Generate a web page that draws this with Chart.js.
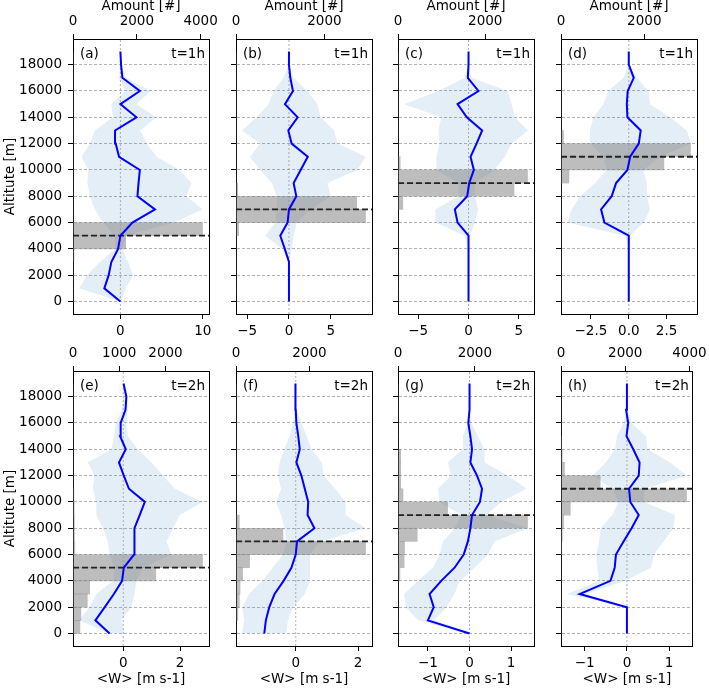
<!DOCTYPE html>
<html>
<head>
<meta charset="utf-8">
<script src="https://cdn.jsdelivr.net/npm/chart.js@4.4.1/dist/chart.umd.min.js"></script>
<style>
  body { margin: 0; background: #fff; width: 709px; height: 688px; position: relative; overflow: hidden; }
</style>
</head>
<body>
<script>
// altitude levels of the <W> profiles and histogram bins (1000 m wide)
const altitudes = [0,1000,2000,3000,4000,5000,6000,7000,8000,9000,10000,11000,12000,13000,14000,15000,16000,17000,18000,19000];
const binCenters = [500,1500,2500,3500,4500,5500,6500,7500,8500,9500,10500,11500,12500,13500,14500,15500,16500,17500,18500];
const altTicks = [0,2000,4000,6000,8000,10000,12000,14000,16000,18000];

// (a) t=1h
const wA   = [0,-1.95,-1.42,-1.1,-0.28,0,1.46,4.2,2.07,2.2,2.36,-0.16,-0.57,-0.65,1.95,0,2.36,0.24,0.08,0];
const loA  = [-0.1,-5.0,-4.05,-2.5,-0.6,-0.7,-2.1,-3.1,-3.7,-4.0,-3.9,-4.7,-3.7,-3.1,-0.9,-1.1,0.6,-0.1,0,0];
const hiA  = [0.1,0.65,1.54,0.93,0.25,0.73,6.4,10.0,8.0,8.6,7.2,4.4,3.2,2.4,4.4,1.95,3.65,0.65,0.1,0];
const amtA = [0,0,0,30,1650,4060,0,0,0,0,0,0,0,0,0,0,0,0,0];
const topA = 5000;

// (b) t=1h
const wB   = [0,0,0,0,-0.5,-1.04,-0.16,0,0.88,0.56,1.4,2.25,0.32,-0.08,1.04,-0.48,0.48,0.16,0,0];
const loB  = [0,0,0,0,-0.85,-2.85,-1.65,-1.45,-1.45,-2.05,-3.45,-4.66,-3.45,-5.6,-3.86,-2.45,-1.85,-0.64,0,0];
const hiB  = [0,0,0,0,0.36,0.56,0.96,2.57,4.98,4.6,8.2,9.2,5.8,5.4,3.8,3.4,2.2,0.56,0,0];
const amtB = [0,0,0,0,0,60,2930,2730,40,0,0,0,0,0,0,0,0,0,0];
const topB = 7000;

// (c) t=1h
const wC   = [0,0,0,0,0,0,-1.09,-1.36,-0.13,0.07,0.53,0.2,0.8,1.36,-0.17,-1.09,0.99,-0.07,0,0];
const loC  = [0,0,0,0,0,-0.36,-3.3,-3.3,-1.0,-1.0,-3.2,-3.2,-2.85,-3.0,-2.7,-6.4,-3.0,-0.36,0,0];
const hiC  = [0,0,0,0,0,0.13,0.63,0.96,0.63,0.63,2.6,3.6,4.3,5.9,4.6,4.3,3.9,0.3,0,0];
const amtC = [0,0,0,0,0,0,0,110,2660,2970,50,0,0,0,0,0,0,0,0];
const topC = 9000;

// (d) t=1h
const wD   = [0,0,0,0,0,0,-1.61,-1.83,-1.13,-0.84,-0.09,0.09,0.66,0.79,-0.09,-0.13,-0.07,0.33,0,0];
const loD  = [0,0,0,0,0,-0.24,-4.07,-3.77,-3.22,-2.23,-1.46,-1.68,-2.56,-2.56,-2.34,-1.68,-1.35,-0.35,0,0];
const hiD  = [0,0,0,0,0,0.09,0.97,1.41,1.19,1.19,0.97,2.07,4.1,3.84,2.74,1.41,1.3,0.53,0,0];
const amtD = [0,0,0,0,0,0,0,0,0,190,2470,3110,60,0,0,0,0,0,0];
const topD = 11000;

// (e) t=2h
const wE   = [-0.48,-0.98,-0.65,-0.33,-0.04,0.02,0.38,0.39,0.4,0.58,0.76,0.2,0.02,-0.15,0.09,-0.11,-0.09,0.08,0.11,0.01];
const loE  = [-0.5,-1.55,-1.19,-0.95,-0.36,-0.31,-0.48,-0.54,-0.72,-0.95,-0.95,-1.07,-1.01,-1.25,-0.42,-0.31,-0.25,-0.05,0,0];
const hiE  = [0.05,-0.07,0.28,0.4,0.46,0.69,1.69,1.52,1.75,1.99,2.8,1.81,1.4,0.99,0.52,0.16,0.11,0.15,0.15,0.02];
const amtE = [150,170,310,360,1790,2800,40,30,30,25,20,0,0,0,0,0,0,0,0];
const topE = 5000;

// (f) t=2h
const wF   = [-1.01,-0.96,-0.85,-0.68,-0.39,-0.14,0,0.04,0.6,0.38,0.4,0.29,0.18,0.02,0.13,0.08,0.02,0,-0.01,-0.01];
const loF  = [-1.72,-1.66,-1.72,-1.5,-1.07,-0.74,-0.41,-0.3,-0.36,-0.47,-0.63,-0.47,-0.58,-0.52,-0.36,-0.2,-0.09,-0.03,-0.03,-0.02];
const hiF  = [-0.3,-0.25,-0.09,0.29,0.46,0.46,0.46,0.78,2.25,1.6,1.6,1.27,0.89,0.84,0.51,0.35,0.18,0.03,0.02,0.01];
const amtF = [0,50,90,110,180,370,3530,1280,90,0,0,0,0,0,0,0,0,0,0];
const topF = 7000;

// (g) t=2h
const wG   = [0,-1.0,-0.86,-0.96,-0.68,-0.36,-0.14,-0.04,0.02,0.06,0.25,0.3,0.18,0.02,0.06,0.02,-0.03,0,0,0];
const loG  = [-0.04,-1.24,-1.53,-1.57,-1.24,-0.88,-0.72,-0.64,-0.36,-0.2,-0.72,-0.76,-0.44,-0.52,-0.16,-0.16,-0.04,0,0,0];
const hiG  = [0.04,-0.84,-0.56,-0.36,-0.24,0.12,0.44,0.6,1.4,0.4,0.76,1.37,0.92,0.36,0.36,0.2,0.04,0,0,0];
const amtG = [0,0,0,0,50,160,170,500,3370,1290,130,70,70,70,0,0,0,0,0];
const topG = 9000;

// (h) t=2h
const wH   = [0,0,0,-1.12,-0.39,-0.29,-0.26,-0.08,0.11,0.28,0.08,0.05,0.28,0.3,0.15,-0.01,0.03,-0.02,0,0];
const loH  = [0,0,0,-1.42,-0.66,-0.7,-0.73,-0.66,-0.62,-0.35,-0.2,-0.35,-0.81,-0.5,-0.28,-0.24,-0.08,-0.02,0,0];
const hiH  = [0,0,0,-0.96,-0.05,0.57,0.64,0.87,1.1,1.14,0.41,0.41,1.42,1.02,0.49,0.45,0.11,0.02,0,0];
const amtH = [0,0,0,0,0,0,20,40,80,290,3910,1220,110,40,20,0,0,0,0];
const topH = 11000;

// tick labels
const wTicksA = [0,10], wTicksB = [-5,0,5], wTicksC = [-5,0,5], wTicksD = [-2.5,0,2.5];
const wTicksE = [0,2], wTicksF = [0,2], wTicksG = [-1,0,1], wTicksH = [-1,0,1];
const aTicksA = [0,2000,4000], aTicksB = [0,2000], aTicksC = [0,2000], aTicksD = [0,2000];
const aTicksE = [0,1000,2000], aTicksF = [0,2000], aTicksG = [0,2000], aTicksH = [0,2000,4000];

const panels = [
  {tag:'(a)', time:'t=1h', w:wA, lo:loA, hi:hiA, amt:amtA, top:topA, wt:wTicksA, at:aTicksA},
  {tag:'(b)', time:'t=1h', w:wB, lo:loB, hi:hiB, amt:amtB, top:topB, wt:wTicksB, at:aTicksB},
  {tag:'(c)', time:'t=1h', w:wC, lo:loC, hi:hiC, amt:amtC, top:topC, wt:wTicksC, at:aTicksC},
  {tag:'(d)', time:'t=1h', w:wD, lo:loD, hi:hiD, amt:amtD, top:topD, wt:wTicksD, at:aTicksD},
  {tag:'(e)', time:'t=2h', w:wE, lo:loE, hi:hiE, amt:amtE, top:topE, wt:wTicksE, at:aTicksE},
  {tag:'(f)', time:'t=2h', w:wF, lo:loF, hi:hiF, amt:amtF, top:topF, wt:wTicksF, at:aTicksF},
  {tag:'(g)', time:'t=2h', w:wG, lo:loG, hi:hiG, amt:amtG, top:topG, wt:wTicksG, at:aTicksG},
  {tag:'(h)', time:'t=2h', w:wH, lo:loH, hi:hiH, amt:amtH, top:topH, wt:wTicksH, at:aTicksH}
];

const FONT = {family: 'DejaVu Sans', size: 13.5};
const plotLefts = [73, 236, 398, 561];

const cornerText = {
  id: 'cornerText',
  afterDatasetsDraw(chart, args, opts) {
    const {ctx, chartArea: a} = chart;
    ctx.save();
    ctx.font = '13.5px "DejaVu Sans"';
    ctx.fillStyle = '#000';
    ctx.textBaseline = 'middle';
    ctx.textAlign = 'left';
    ctx.fillText(opts.tag, a.left + 7, a.top + 15);
    ctx.textAlign = 'right';
    ctx.fillText(opts.time, a.right - 4, a.top + 15);
    ctx.restore();
  }
};

function fmtW(ticks) {
  const dec = ticks.some(t => !Number.isInteger(t)) ? 1 : 0;
  return v => Number(v).toFixed(dec).replace('-', '\u2212');
}

function makeChart(p, idx) {
  const col = idx % 4, row = Math.floor(idx / 4);
  const cv = document.createElement('canvas');
  const W = 223, H = row === 0 ? 344 : 358;
  const axTop = row === 0 ? 39 : 41;
  const axBot = H - axTop - 275;
  cv.width = W; cv.height = H;
  cv.style.position = 'absolute';
  cv.style.left = (plotLefts[col] - 73) + 'px';
  cv.style.top = (row === 0 ? 0 : 330) + 'px';
  document.body.appendChild(cv);

  // matplotlib-like autoscaling
  const lo = Math.min(...p.lo), hi = Math.max(...p.hi);
  const m = (hi - lo) * 0.05;
  const xmin = lo - m, xmax = hi + m;
  const ymin = -0.05 * 19000, ymax = 19000 * 1.05;
  const amax = Math.max(...p.amt) * 1.05;
  const pts = arr => arr.map((v, i) => ({x: v, y: altitudes[i]}));

  new Chart(cv, {
    type: 'line',
    data: {
      datasets: [
        {data: pts(p.w), borderColor: '#0000ff', borderWidth: 2, pointRadius: 0, fill: false,
         xAxisID: 'x', yAxisID: 'y', indexAxis: 'y'},
        {data: [{x: xmin, y: p.top}, {x: xmax, y: p.top}], borderColor: '#222', borderWidth: 1.8,
         borderDash: [6, 3], pointRadius: 0, fill: false, xAxisID: 'x', yAxisID: 'y', indexAxis: 'y'},
        {data: [{x: 0, y: ymin}, {x: 0, y: ymax}], borderColor: '#999', borderWidth: 0.8,
         borderDash: [2, 2], pointRadius: 0, fill: false, xAxisID: 'x', yAxisID: 'y', indexAxis: 'y'},
        {type: 'bar', data: p.amt.map((v, i) => ({x: v, y: binCenters[i]})),
         backgroundColor: 'rgba(128,128,128,0.52)', borderWidth: 0,
         barPercentage: 1, categoryPercentage: 1, xAxisID: 'x2', yAxisID: 'y', indexAxis: 'y'},
        {data: pts(p.lo), borderColor: 'rgba(0,0,0,0)', borderWidth: 0, pointRadius: 0, fill: false,
         xAxisID: 'x', yAxisID: 'y', indexAxis: 'y'},
        {data: pts(p.hi), borderColor: 'rgba(0,0,0,0)', borderWidth: 0, pointRadius: 0, fill: '-1',
         backgroundColor: 'rgba(31,119,180,0.12)', xAxisID: 'x', yAxisID: 'y', indexAxis: 'y'}
      ]
    },
    plugins: [cornerText],
    options: {
      responsive: false,
      animation: false,
      indexAxis: 'y',
      layout: {padding: {left: 0, right: 14, top: 0, bottom: 0}},
      plugins: {
        legend: {display: false},
        tooltip: {enabled: false},
        cornerText: {tag: p.tag, time: p.time}
      },
      scales: {
        y: {
          type: 'linear', position: 'left', min: ymin, max: ymax, offset: false,
          afterBuildTicks: s => { s.ticks = altTicks.map(v => ({value: v})); },
          afterFit: s => { s.width = 73; },
          ticks: {color: '#000', font: FONT, padding: 6, autoSkip: false,
                  callback: v => col === 0 ? String(v) : ''},
          grid: {offset: false, color: 'rgba(0,0,0,0.38)', lineWidth: 0.8, tickColor: '#000', tickLength: 5, tickWidth: 1},
          border: {color: '#000', width: 1, dash: [3, 2]},
          title: {display: col === 0, text: 'Altitute [m]', color: '#000', font: FONT, padding: {top: 2, bottom: 0}}
        },
        yr: {
          type: 'linear', position: 'right', min: ymin, max: ymax, offset: false,
          afterFit: s => { s.width = 0; },
          ticks: {display: false},
          grid: {drawOnChartArea: false, drawTicks: false},
          border: {color: '#000', width: 1}
        },
        x: {
          type: 'linear', position: 'bottom', min: xmin, max: xmax, offset: false,
          afterBuildTicks: s => { s.ticks = p.wt.map(v => ({value: v})); },
          afterFit: s => { s.height = axBot; },
          ticks: {color: '#000', font: FONT, padding: 4, autoSkip: false, maxRotation: 0, callback: fmtW(p.wt)},
          grid: {drawOnChartArea: false, tickColor: '#000', tickLength: 5, tickWidth: 1},
          border: {color: '#000', width: 1},
          title: {display: row === 1, text: '<W> [m s-1]', color: '#000', font: FONT, padding: {top: 0, bottom: 0}}
        },
        x2: {
          type: 'linear', position: 'top', min: 0, max: amax, offset: false,
          afterBuildTicks: s => { s.ticks = p.at.map(v => ({value: v})); },
          afterFit: s => { s.height = axTop; },
          ticks: {color: '#000', font: FONT, padding: 4, autoSkip: false, maxRotation: 0, callback: v => String(v)},
          grid: {drawOnChartArea: false, tickColor: '#000', tickLength: 5, tickWidth: 1},
          border: {color: '#000', width: 1},
          title: {display: row === 0, text: 'Amount [#]', color: '#000',
                  font: {family: 'DejaVu Sans', size: 13.5, lineHeight: 1}, padding: {top: 0, bottom: 0}}
        }
      }
    }
  });
}

panels.forEach(makeChart);
</script>
</body>
</html>
